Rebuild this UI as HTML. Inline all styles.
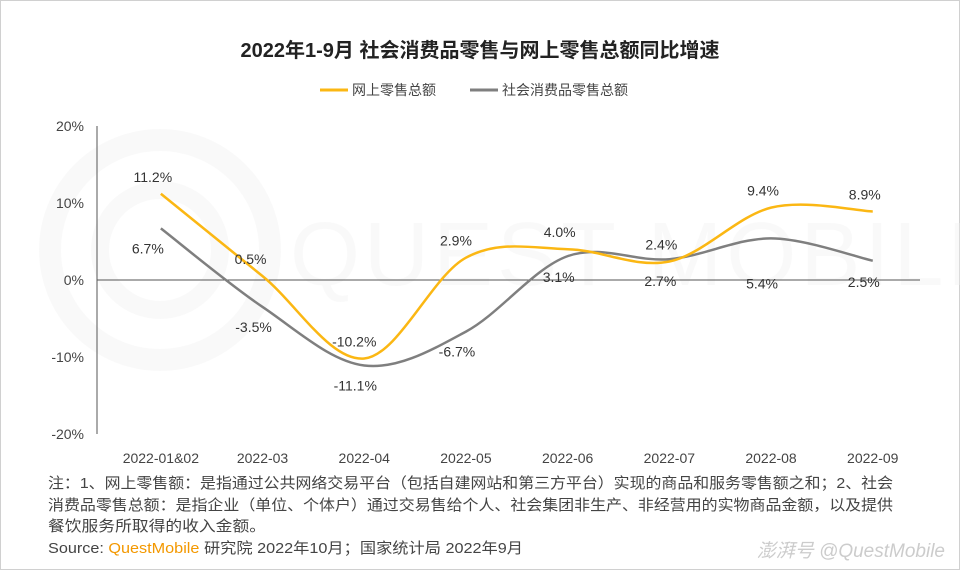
<!DOCTYPE html>
<html><head><meta charset="utf-8"><style>
body{margin:0;background:#fff;}
svg{display:block;font-family:"Liberation Sans","Noto Sans CJK SC",sans-serif;}
</style></head><body>
<svg id="c" width="960" height="570">
<rect x="0.5" y="0.5" width="959" height="569" fill="#fff" stroke="#d0d0d0"/>
<g opacity="0.35">
<circle cx="160" cy="250" r="110" fill="none" stroke="#f0f0f0" stroke-width="22"/>
<circle cx="160" cy="250" r="60" fill="none" stroke="#f0f0f0" stroke-width="18"/>
<text x="290" y="285" font-size="90" fill="#f0f0f0" letter-spacing="4">QUEST MOBILE</text>
</g>
<text x="480" y="57" text-anchor="middle" font-size="20" font-weight="bold" fill="#222">2022年1-9月 社会消费品零售与网上零售总额同比增速</text>
<g>
<g><line x1="320" y1="90" x2="348" y2="90" stroke="#fbb713" stroke-width="3"/><text x="352" y="95" font-size="14" fill="#444">网上零售总额</text></g>
<g><line x1="470" y1="90" x2="498" y2="90" stroke="#7f7f7f" stroke-width="3"/><text x="502" y="95" font-size="14" fill="#444">社会消费品零售总额</text></g>
</g>
<g id="axes"></g>
<g id="marks"></g>
<text x="48" y="488" font-size="15" fill="#444" textLength="845" lengthAdjust="spacingAndGlyphs">注：1、网上零售额：是指通过公共网络交易平台（包括自建网站和第三方平台）实现的商品和服务零售额之和；2、社会</text>
<text x="48" y="510" font-size="15" fill="#444" textLength="845" lengthAdjust="spacingAndGlyphs">消费品零售总额：是指企业（单位、个体户）通过交易售给个人、社会集团非生产、非经营用的实物商品金额，以及提供</text>
<text x="48" y="531" font-size="15" fill="#444" textLength="218" lengthAdjust="spacingAndGlyphs">餐饮服务所取得的收入金额。</text>
<text x="48" y="553" font-size="15" fill="#444" textLength="475" lengthAdjust="spacingAndGlyphs">Source:  <tspan fill="#f39800">QuestMobile</tspan> 研究院 2022年10月；国家统计局 2022年9月</text>
<text x="945" y="557" text-anchor="end" font-size="19" fill="#ccc" font-style="italic">澎湃号 @QuestMobile</text>
</svg>
<script>
const categories=["2022-01&02","2022-03","2022-04","2022-05","2022-06","2022-07","2022-08","2022-09"];
const onlineValues=[11.2,0.5,-10.2,2.9,4.0,2.4,9.4,8.9];
const socialValues=[6.7,-3.5,-11.1,-6.7,3.1,2.7,5.4,2.5];
const yTicks=[20,10,0,-10,-20];
const socialLabelOffsets=[20,20,20,20,21,22,45,21];
const NS="http://www.w3.org/2000/svg";
const x0=110,step=101.7,yZero=280,pxPer=7.7;
const xs=i=>x0+step*(i+0.5);
const ys=v=>yZero-v*pxPer;
function mk(t,a,p,txt){const e=document.createElementNS(NS,t);for(const k in a)e.setAttribute(k,a[k]);if(txt!==undefined)e.textContent=txt;p.appendChild(e);return e;}
const ax=document.getElementById('axes'),mg=document.getElementById('marks');
const yl=mk('line',{x1:97,y1:ys(20),x2:97,y2:ys(-20),stroke:'#555'},ax);


const zl=mk('line',{x1:97,y1:ys(0),x2:920,y2:ys(0),stroke:'#555'},ax);


yTicks.forEach(t=>{const e=mk('text',{x:84,y:ys(t)+5,'text-anchor':'end','font-size':14,fill:'#444'},ax,t+'%');

});
categories.forEach((c,i)=>{const e=mk('text',{x:xs(i),y:463,'text-anchor':'middle','font-size':14,fill:'#444'},ax,c);

});
function smooth(vals){const p=vals.map((v,i)=>[xs(i),ys(v)]);let d='M'+p[0][0]+','+p[0][1];
for(let i=0;i<p.length-1;i++){const a=p[i-1]||p[i],b=p[i],c=p[i+1],e=p[i+2]||c;
d+=` C${b[0]+(c[0]-a[0])/6},${b[1]+(c[1]-a[1])/6} ${c[0]-(e[0]-b[0])/6},${c[1]-(e[1]-b[1])/6} ${c[0]},${c[1]}`;}return d;}
const ps=mk('path',{d:smooth(socialValues),fill:'none',stroke:'#7f7f7f','stroke-width':2.5},mg);


const po=mk('path',{d:smooth(onlineValues),fill:'none',stroke:'#fbb713','stroke-width':2.5},mg);


onlineValues.forEach((v,i)=>{const e=mk('text',{x:xs(i)-(i==1?12:i==2?10:i==3?10:8),y:ys(v)-12,'text-anchor':'middle','font-size':14,fill:'#333'},mg,v.toFixed(1)+'%');

});
socialValues.forEach((v,i)=>{const e=mk('text',{x:xs(i)-(i==0?13:9),y:ys(v)+socialLabelOffsets[i]+5,'text-anchor':'middle','font-size':14,fill:'#333'},mg,v.toFixed(1)+'%');

});
</script>
</body></html>
